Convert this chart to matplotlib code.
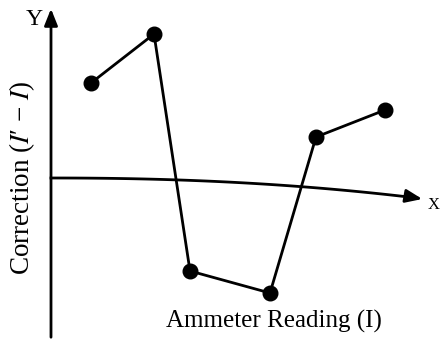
import numpy as np
import matplotlib
matplotlib.use("Agg")
import matplotlib.pyplot as plt

plt.rcParams['mathtext.fontset'] = 'stix'
plt.rcParams['font.family'] = ['Liberation Serif', 'DejaVu Serif']

# Data (arbitrary units)
ammeter_reading = [0.40, 1.03, 1.39, 2.19, 2.65, 3.34]
correction = [0.95, 1.44, -0.93, -1.15, 0.41, 0.68]

fig = plt.figure(figsize=(4.48, 3.41), dpi=100)
ax = fig.add_axes([0, 0, 1, 1])
ax.set_xlim(-0.51, 3.97)
ax.set_ylim(-1.63, 1.78)
ax.axis('off')

lw = 2.0
# Y axis with arrow
ax.annotate('', xy=(0, 1.72), xytext=(0, -1.62),
            arrowprops=dict(arrowstyle='-|>,head_length=1.0,head_width=0.4',
                            color='black', lw=lw))
ax.text(-0.17, 1.59, 'Y', fontsize=17, ha='center', va='center')

# X axis (slightly drooping, as in the printed figure)
xs = np.linspace(0, 3.66, 60)
ys = -0.2 * (xs / 3.66) ** 2.2
ax.plot(xs, ys, color='black', lw=lw)
ax.annotate('', xy=(3.74, -0.215), xytext=(3.60, -0.19),
            arrowprops=dict(arrowstyle='-|>,head_length=1.0,head_width=0.4',
                            color='black', lw=lw))
ax.text(3.83, -0.27, 'X', fontsize=12, ha='center', va='center')

# Data line
ax.plot(ammeter_reading, correction, color='black', lw=lw,
        marker='o', markersize=10.5)

ax.text(-0.285, 0.0, "Correction ($I$′ − $I$)", fontsize=19.5, rotation=90,
        ha='center', va='center')
ax.text(2.23, -1.43, 'Ammeter Reading (I)', fontsize=18,
        ha='center', va='center')

fig.savefig('out.png', dpi=100)
